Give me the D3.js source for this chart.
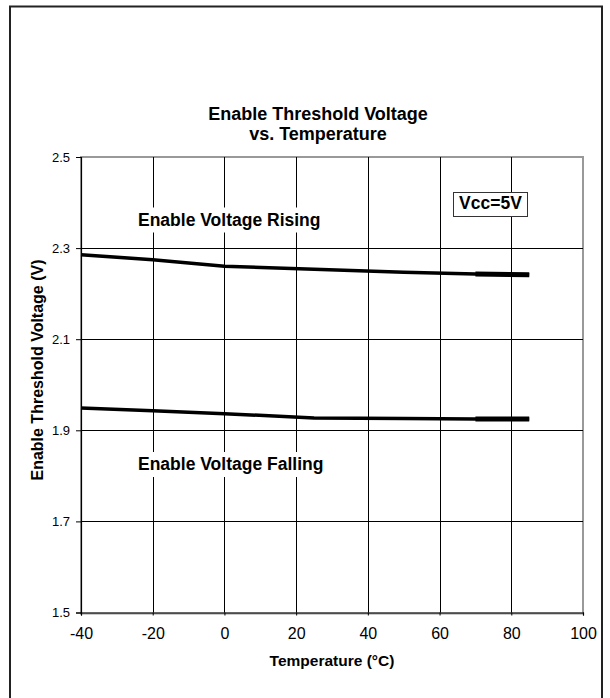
<!DOCTYPE html>
<html>
<head>
<meta charset="utf-8">
<script src="https://cdn.jsdelivr.net/npm/d3@7"></script>
<style>
  body { margin: 0; background: #fff; }
  text { font-family: "Liberation Sans", Arial, sans-serif; fill: #000; }
</style>
</head>
<body>
<div id="chart"></div>
<script>
// data
const temps = [-40, -20, 0, 25, 50, 70, 85];
const rising = [2.2855, 2.2745, 2.260, 2.2535, 2.247, 2.243, 2.2415];
const falling = [1.949, 1.943, 1.9365, 1.927, 1.926, 1.925, 1.925];
const xTicks = [-40, -20, 0, 20, 40, 60, 80, 100];
const yTicks = [1.5, 1.7, 1.9, 2.1, 2.3, 2.5];

const W = 610, H = 698;
const plot = {left: 81, right: 583, top: 157, bottom: 612.5};

const svg = d3.select("#chart")
    .append("svg")
    .attr("width", W)
    .attr("height", H);

// outer frame
svg.append("rect")
    .attr("x", 10).attr("y", 6.5)
    .attr("width", 592).attr("height", 720)
    .attr("fill", "none")
    .attr("stroke", "#222")
    .attr("stroke-width", 2);

const x = d3.scaleLinear().domain([-40, 100]).range([plot.left, plot.right]);
const y = d3.scaleLinear().domain([1.5, 2.5]).range([plot.bottom, plot.top]);

// plot border (grey)
svg.append("rect")
    .attr("x", x(-40)).attr("y", y(2.5))
    .attr("width", x(100) - x(-40)).attr("height", y(1.5) - y(2.5) + 1)
    .attr("fill", "#fff")
    .attr("stroke", "#999")
    .attr("stroke-width", 2);

// gridlines
svg.append("g")
    .selectAll("line")
    .data(xTicks.filter(d => d > -40 && d < 100))
    .enter().append("line")
    .attr("x1", d => Math.round(x(d)) + 0.5).attr("x2", d => Math.round(x(d)) + 0.5)
    .attr("y1", y(2.5)).attr("y2", y(1.5))
    .attr("stroke", "#000").attr("stroke-width", 1);

svg.append("g")
    .selectAll("line")
    .data(yTicks.filter(d => d > 1.5 && d < 2.5))
    .enter().append("line")
    .attr("y1", d => Math.round(y(d)) + 0.5).attr("y2", d => Math.round(y(d)) + 0.5)
    .attr("x1", x(-40)).attr("x2", x(100))
    .attr("stroke", "#000").attr("stroke-width", 1);

// axes
const yAxis = svg.append("g")
    .attr("transform", `translate(${plot.left},0)`)
    .call(d3.axisLeft(y).tickValues(yTicks).tickSize(5).tickPadding(6).tickFormat(d => d.toFixed(1)));
yAxis.selectAll("text").style("font-size", "13px").attr("fill", "#000");

const xAxis = svg.append("g")
    .attr("transform", `translate(0,${plot.bottom})`)
    .call(d3.axisBottom(x).tickValues(xTicks).tickSize(3).tickPadding(12).tickFormat(d => String(d)));
xAxis.selectAll("text").style("font-size", "16px").attr("fill", "#000");

svg.selectAll(".domain").attr("stroke", "#000").attr("stroke-width", 1.2);
svg.selectAll(".tick line").attr("stroke", "#000");

// labels with white background
function boxLabel(txt, x0, base) {
    const g = svg.append("g");
    const t = g.append("text")
        .attr("x", x0).attr("y", base)
        .style("font-size", "17.5px").style("font-weight", "bold")
        .text(txt);
    const b = t.node().getBBox();
    g.insert("rect", "text")
        .attr("x", b.x - 5).attr("y", base - 18)
        .attr("width", b.width + 10).attr("height", 25)
        .attr("fill", "#fff");
}

// series
const line = d3.line().x(d => x(d[0])).y(d => y(d[1]));
[rising, falling].forEach(s => {
    const pts = temps.map((t, i) => [t, s[i]]);
    svg.append("path")
        .datum(pts)
        .attr("d", line)
        .attr("fill", "none")
        .attr("stroke", "#000")
        .attr("stroke-width", 3.5);
    svg.append("path")
        .datum(pts.slice(-2))
        .attr("d", line)
        .attr("fill", "none")
        .attr("stroke", "#000")
        .attr("stroke-width", 5);
});

boxLabel("Enable Voltage Rising", 138, 225.5);
boxLabel("Enable Voltage Falling", 138, 470);

// Vcc box
svg.append("rect")
    .attr("x", 453.5).attr("y", 192.5)
    .attr("width", 74).attr("height", 24)
    .attr("fill", "#fff").attr("stroke", "#333").attr("stroke-width", 1);
svg.append("text")
    .attr("x", 490.5).attr("y", 208.5)
    .attr("text-anchor", "middle")
    .style("font-size", "17.5px").style("font-weight", "bold")
    .text("Vcc=5V");

// title
svg.append("text")
    .attr("x", 318).attr("y", 120)
    .attr("text-anchor", "middle")
    .style("font-size", "18px").style("font-weight", "bold")
    .text("Enable Threshold Voltage");
svg.append("text")
    .attr("x", 318).attr("y", 139.5)
    .attr("text-anchor", "middle")
    .style("font-size", "18px").style("font-weight", "bold")
    .text("vs. Temperature");

// axis titles
svg.append("text")
    .attr("x", (plot.left + plot.right) / 2).attr("y", 666)
    .attr("text-anchor", "middle")
    .style("font-size", "15.5px").style("font-weight", "bold")
    .text("Temperature (°C)");

svg.append("text")
    .attr("transform", "translate(43,370) rotate(-90)")
    .attr("text-anchor", "middle")
    .style("font-size", "16px").style("font-weight", "bold")
    .text("Enable Threshold Voltage (V)");
</script>
</body>
</html>
